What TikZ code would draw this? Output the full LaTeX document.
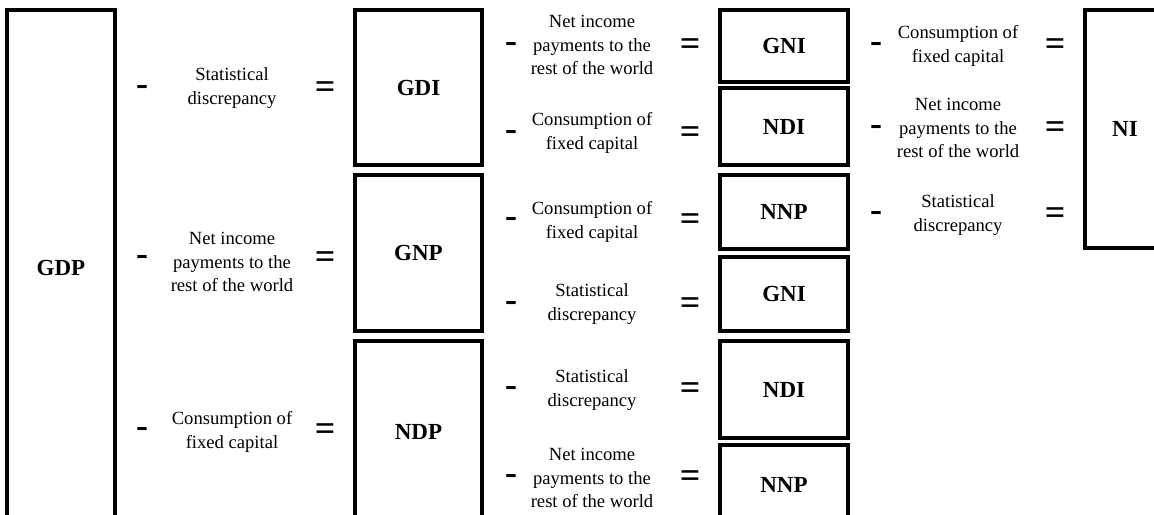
\documentclass[tikz,border=0pt]{standalone}
\usepackage{fontspec}
\setmainfont{Liberation Serif}
\usepackage{tikz}
\usetikzlibrary{positioning}

\begin{document}
\begin{tikzpicture}[
    x=0.5pt, y=-0.5pt,
    box/.style={draw, line width=1.6pt, inner sep=0pt, font=\fontsize{11.5}{13}\selectfont\bfseries},
    term/.style={align=center, inner sep=0pt, font=\fontsize{9.3}{11.8}\selectfont},
    op/.style={inner sep=0pt, font=\fontsize{18}{20}\selectfont\bfseries},
]
    \useasboundingbox (0, 0) rectangle (1154, 514);
    \clip (0, 0) rectangle (1154, 514);

    % Aggregate boxes
    \node[box, minimum width=54pt, minimum height=258pt] (gdp) at (61, 268) {GDP};

    \node[box, minimum width=63.5pt, minimum height=77.5pt] (gdi) at (418.5, 87.5) {GDI};
    \node[box, minimum width=63.5pt, minimum height=78pt] (gnp) at (418.5, 253) {GNP};
    \node[box, minimum width=63.5pt, minimum height=91pt] (ndp) at (418.5, 432) {NDP};

    \node[box, minimum width=64pt, minimum height=36pt] (gni) at (784, 46) {GNI};
    \node[box, minimum width=64pt, minimum height=38.5pt] (ndi) at (784, 126.5) {NDI};
    \node[box, minimum width=64pt, minimum height=37pt] (nnp) at (784, 212) {NNP};
    \node[box, minimum width=64pt, minimum height=37pt] (gniB) at (784, 294) {GNI};
    \node[box, minimum width=64pt, minimum height=48.5pt] (ndiB) at (784, 389.5) {NDI};
    \node[box, minimum width=64pt, minimum height=40pt] (nnpB) at (784, 485) {NNP};

    \node[box, minimum width=40pt, minimum height=119pt] (ni) at (1125, 129) {NI};

    % From GDP
    \node[op] (minA) at (142, 90) {-};
    \node[term] (sdA) at (232, 88) {Statistical\\discrepancy};
    \node[op] (eqA) at (325, 90) {=};

    \node[op] (minB) at (142, 260) {-};
    \node[term] (nipB) at (232, 262) {Net income\\payments to the\\rest of the world};
    \node[op] (eqB) at (325, 260) {=};

    \node[op] (minC) at (142, 432) {-};
    \node[term] (cfcC) at (232, 432) {Consumption of\\fixed capital};
    \node[op] (eqC) at (325, 432) {=};

    % From GDI, GNP, NDP
    \node[op] (minD) at (511, 47) {-};
    \node[term] (nipD) at (592, 45) {Net income\\payments to the\\rest of the world};
    \node[op] (eqD) at (690, 47) {=};

    \node[op] (minE) at (511, 135) {-};
    \node[term] (cfcE) at (592, 133) {Consumption of\\fixed capital};
    \node[op] (eqE) at (690, 135) {=};

    \node[op] (minF) at (511, 222) {-};
    \node[term] (cfcF) at (592, 222) {Consumption of\\fixed capital};
    \node[op] (eqF) at (690, 222) {=};

    \node[op] (minG) at (511, 306) {-};
    \node[term] (sdG) at (592, 304) {Statistical\\discrepancy};
    \node[op] (eqG) at (690, 306) {=};

    \node[op] (minH) at (511, 391) {-};
    \node[term] (sdH) at (592, 390) {Statistical\\discrepancy};
    \node[op] (eqH) at (690, 391) {=};

    \node[op] (minI) at (511, 479) {-};
    \node[term] (nipI) at (592, 478) {Net income\\payments to the\\rest of the world};
    \node[op] (eqI) at (690, 479) {=};

    % Into NI
    \node[op] (minJ) at (876, 47) {-};
    \node[term] (cfcJ) at (958, 46) {Consumption of\\fixed capital};
    \node[op] (eqJ) at (1055, 47) {=};

    \node[op] (minK) at (876, 130) {-};
    \node[term] (nipK) at (958, 128) {Net income\\payments to the\\rest of the world};
    \node[op] (eqK) at (1055, 130) {=};

    \node[op] (minL) at (876, 216) {-};
    \node[term] (sdL) at (958, 215) {Statistical\\discrepancy};
    \node[op] (eqL) at (1055, 216) {=};

\end{tikzpicture}
\end{document}
